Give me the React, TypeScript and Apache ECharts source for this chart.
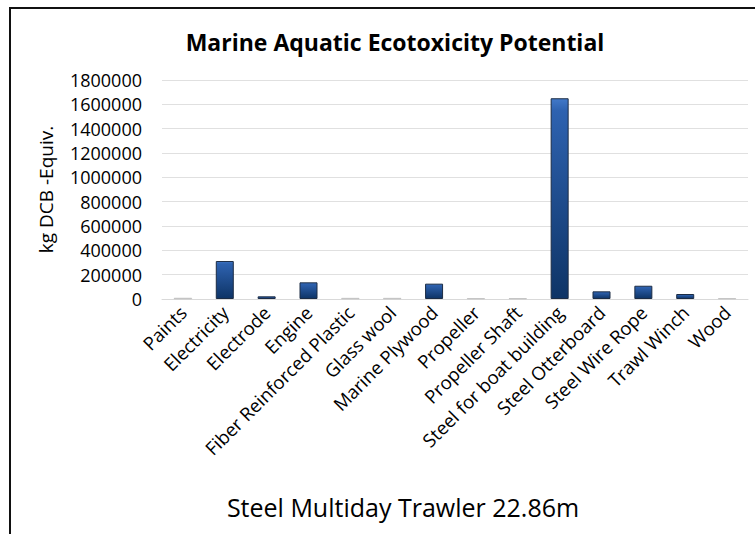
import React, { useEffect, useRef } from "react";
import * as echarts from "echarts";

const categories = [
  "Paints",
  "Electricity",
  "Electrode",
  "Engine",
  "Fiber Reinforced Plastic",
  "Glass wool",
  "Marine Plywood",
  "Propeller",
  "Propeller Shaft",
  "Steel for boat building",
  "Steel Otterboard",
  "Steel Wire Rope",
  "Trawl Winch",
  "Wood",
];

const values = [9000, 312000, 22000, 137000, 8000, 8000, 126000, 6000, 6000, 1650000, 63000, 109000, 41000, 6000];

const smallGray = [true, false, false, false, true, true, false, true, true, false, false, false, false, true];

const yTicks = { min: 0, max: 1800000, interval: 200000 };

const titleText = "Marine Aquatic Ecotoxicity Potential";
const yName = "kg DCB -Equiv.";
const xName = "Steel Multiday Trawler 22.86m";

const FONT = "'Open Sans', 'Liberation Sans', sans-serif";

export default function App() {
  const ref = useRef<HTMLDivElement>(null);
  useEffect(() => {
    if (!ref.current) return;
    const chart = echarts.init(ref.current, null, { renderer: "svg" });
    const blue = new echarts.graphic.LinearGradient(0, 0, 0, 1, [
      { offset: 0, color: "#4279c9" },
      { offset: 0.06, color: "#2e62b0" },
      { offset: 1, color: "#0e3466" },
    ]);
    chart.setOption({
      animation: false,
      backgroundColor: "#ffffff",
      textStyle: { fontFamily: FONT },
      title: {
        text: titleText,
        left: 390,
        top: 25,
        textAlign: "center",
        textStyle: { fontFamily: FONT, fontSize: 23, fontWeight: "bold", color: "#000" },
      },
      grid: { left: 162, right: 7, top: 80, bottom: 235, containLabel: false },
      xAxis: {
        type: "category",
        data: categories,
        axisLine: { show: true, lineStyle: { color: "#d9d9d9", width: 1 } },
        axisTick: { show: false },
        axisLabel: {
          rotate: 45,
          interval: 0,
          margin: 10,
          fontSize: 18.5,
          color: "#000",
          fontFamily: FONT,
        },
      },
      yAxis: {
        type: "value",
        min: yTicks.min,
        max: yTicks.max,
        interval: yTicks.interval,
        name: yName,
        nameLocation: "middle",
        nameGap: 107,
        nameRotate: 90,
        nameTextStyle: { fontSize: 19, color: "#000", fontFamily: FONT },
        axisLine: { show: false },
        axisTick: { show: false },
        axisLabel: {
          fontSize: 18,
          color: "#000",
          margin: 20,
          fontFamily: FONT,
          formatter: (v: number) => String(v),
        },
        splitLine: { lineStyle: { color: "#e0e0e0", width: 1 } },
      },
      series: [
        {
          type: "bar",
          barWidth: 18,
          data: values.map((v, i) => ({
            value: v,
            itemStyle: smallGray[i]
              ? { color: "#c8c8c8", borderColor: "#b0b0b0", borderWidth: 0.5 }
              : { color: blue, borderColor: "#1c2c44", borderWidth: 1 },
          })),
        },
      ],
      graphic: [
        {
          type: "rect",
          shape: { x: 10, y: 8, width: 770, height: 540 },
          style: { fill: "none", stroke: "#111", lineWidth: 2 },
          silent: true,
        },
        {
          type: "text",
          x: 403,
          y: 507,
          style: {
            text: xName,
            fontSize: 25,
            fontFamily: FONT,
            fill: "#000",
            align: "center",
            verticalAlign: "middle",
          },
        },
      ],
    });
    return () => chart.dispose();
  }, []);
  return (
    <div
      ref={ref}
      style={{ position: "fixed", left: 0, top: 0, width: 755, height: 534, background: "#fff" }}
    />
  );
}
